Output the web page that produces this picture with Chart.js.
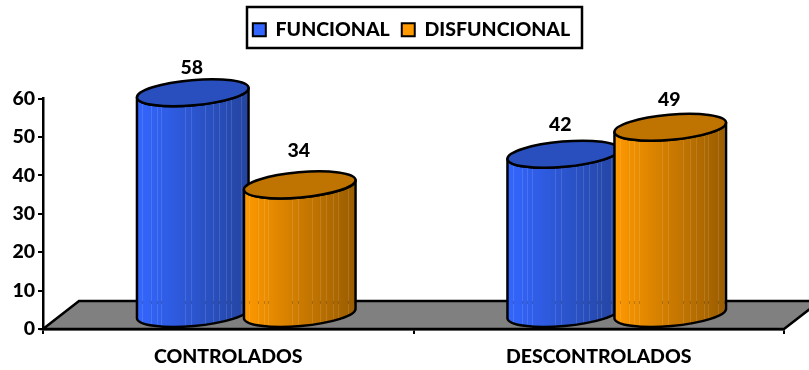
<!DOCTYPE html>
<html>
<head>
<meta charset="utf-8">
<style>
html, body { margin: 0; padding: 0; background: #fff; }
canvas { display: block; }
</style>
<script src="https://cdn.jsdelivr.net/npm/chart.js@4"></script>
</head>
<body>
<canvas id="chart" width="809" height="370"></canvas>
<script>
const categories = ['CONTROLADOS', 'DESCONTROLADOS'];
const funcional = [58, 42];
const disfuncional = [34, 49];
const yMax = 60;
const yStep = 10;

const FONT = 'Lato, Carlito, "Open Sans", sans-serif';
const WEIGHT = '900';
const SIZE = 19.5;

// Fill colours per series: side gradient ends, cap colour, legend swatch.
const paints = [
  { light: '#3366ff', dark: '#24449f', cap: '#284fbd', swatch: '#3366ff' },
  { light: '#ff9900', dark: '#995c00', cap: '#bf7300', swatch: '#ff9900' }
];

// Pale vertical facets along the cylinder wall, as fractions of its width.
const facets = [0.05, 0.13, 0.18, 0.22, 0.43, 0.48, 0.61, 0.68, 0.73, 0.8, 0.84, 0.93, 0.98];

// Fake-3D projection used by the floor and the cylinders.
const depth = { dx: 36, dy: 28, shift: 18 };
const cyl = { widen: 112 / 107, tilt: -5 * Math.PI / 180, minor: 12.6, rise: 13.5 };

// Where each value label sits relative to the front of its cylinder cap.
const labelOffsets = [
  [{ dx: -1, dy: 38 }, { dx: -3, dy: 43 }],
  [{ dx: -1, dy: 48 }, { dx: -1, dy: 41 }]
];

function cylinderPath(ctx, cx, topY, baseY, a) {
  const px = a * Math.cos(cyl.tilt), py = a * Math.sin(cyl.tilt);
  const tc = topY - cyl.rise, bc = baseY - cyl.rise;
  ctx.beginPath();
  ctx.moveTo(cx - px, tc - py);
  ctx.lineTo(cx - px, bc - py);
  ctx.ellipse(cx, bc, a, cyl.minor, cyl.tilt, Math.PI, 0, true);
  ctx.lineTo(cx + px, tc + py);
  ctx.ellipse(cx, tc, a, cyl.minor, cyl.tilt, 0, Math.PI, false);
  ctx.closePath();
}

function drawCylinder(ctx, bar, paint, backY) {
  const a = bar.width * cyl.widen / 2;
  const cx = bar.x + depth.shift;
  const topY = bar.y;
  const baseY = bar.base - 1;
  const tc = topY - cyl.rise;

  const grad = ctx.createLinearGradient(cx - a, 0, cx + a, 0);
  grad.addColorStop(0, paint.light);
  grad.addColorStop(1, paint.dark);

  ctx.save();
  cylinderPath(ctx, cx, topY, baseY, a);
  ctx.fillStyle = grad;
  ctx.fill();

  // Facet lines, with the floor's back edge faintly showing through them.
  ctx.save();
  ctx.clip();
  facets.forEach(f => {
    const x = Math.round(cx - a + 2 * a * f) + 0.5;
    ctx.strokeStyle = 'rgba(255,255,255,0.12)';
    ctx.lineWidth = 1;
    ctx.beginPath();
    ctx.moveTo(x, topY - 30);
    ctx.lineTo(x, bar.base);
    ctx.stroke();
    ctx.strokeStyle = 'rgba(0,0,0,0.22)';
    ctx.beginPath();
    ctx.moveTo(x, backY);
    ctx.lineTo(x, backY + 3);
    ctx.stroke();
  });
  ctx.restore();

  ctx.strokeStyle = '#000';
  ctx.lineWidth = 2.5;
  ctx.lineJoin = 'round';
  cylinderPath(ctx, cx, topY, baseY, a);
  ctx.stroke();

  ctx.beginPath();
  ctx.ellipse(cx, tc, a, cyl.minor, cyl.tilt, 0, Math.PI * 2);
  ctx.fillStyle = paint.cap;
  ctx.fill();
  ctx.stroke();
  ctx.restore();
}

const cylinderScene = {
  id: 'cylinderScene',
  beforeInit(chart) {
    // Reserve the band above the plot for the framed legend.
    const fit = chart.legend.fit;
    chart.legend.fit = function () {
      fit.call(this);
      this.height = 90.5;
    };
  },
  afterLayout(chart) {
    // Centre the legend row inside its frame.
    const lg = chart.legend;
    const shift = 411.5 - (lg.left + lg.right) / 2;
    lg.left += shift;
    lg.right += shift;
  },
  beforeDatasetsDraw(chart) {
    const { ctx, chartArea: { left, right, bottom } } = chart;
    ctx.save();
    ctx.beginPath();
    ctx.moveTo(left, bottom);
    ctx.lineTo(left + depth.dx, bottom - depth.dy);
    ctx.lineTo(right + depth.dx, bottom - depth.dy);
    ctx.lineTo(right, bottom);
    ctx.closePath();
    ctx.fillStyle = '#808080';
    ctx.fill();
    ctx.strokeStyle = '#000';
    ctx.lineWidth = 2.5;
    ctx.stroke();
    ctx.restore();
  },
  // The library's flat bars are replaced by the cylinders drawn below.
  beforeDatasetDraw() {
    return false;
  },
  afterDatasetsDraw(chart) {
    const { ctx } = chart;
    const backY = chart.chartArea.bottom - depth.dy;
    chart.data.datasets.forEach((ds, d) => {
      chart.getDatasetMeta(d).data.forEach(bar => drawCylinder(ctx, bar, paints[d], backY));
    });
    ctx.save();
    ctx.fillStyle = '#000';
    ctx.font = WEIGHT + ' ' + SIZE + 'px ' + FONT;
    ctx.textAlign = 'center';
    ctx.textBaseline = 'middle';
    chart.data.datasets.forEach((ds, d) => {
      chart.getDatasetMeta(d).data.forEach((bar, i) => {
        const off = labelOffsets[d][i];
        ctx.fillText(String(ds.data[i]), bar.x + depth.shift + off.dx, bar.y - off.dy);
      });
    });
    ctx.restore();
  },
  afterDraw(chart) {
    // Legend frame.
    const { ctx } = chart;
    ctx.save();
    ctx.strokeStyle = '#000';
    ctx.lineWidth = 2.5;
    ctx.strokeRect(247, 7, 335, 41);
    ctx.restore();
  }
};

new Chart(document.getElementById('chart'), {
  type: 'bar',
  data: {
    labels: categories,
    datasets: [
      { label: 'FUNCIONAL', data: funcional, backgroundColor: paints[0].swatch, barThickness: 107 },
      { label: 'DISFUNCIONAL', data: disfuncional, backgroundColor: paints[1].swatch, barThickness: 107 }
    ]
  },
  options: {
    responsive: false,
    animation: false,
    layout: { padding: { top: 8, right: 25, left: 0, bottom: 0 } },
    plugins: {
      tooltip: { enabled: false },
      legend: {
        position: 'top',
        labels: {
          boxWidth: 13,
          boxHeight: 13,
          padding: 12,
          color: '#000',
          font: { family: FONT, size: SIZE, weight: WEIGHT },
          generateLabels(chart) {
            return chart.data.datasets.map((ds, i) => ({
              text: ds.label,
              fillStyle: paints[i].swatch,
              strokeStyle: '#000',
              lineWidth: 2,
              datasetIndex: i
            }));
          }
        }
      }
    },
    scales: {
      x: {
        afterFit(scale) { scale.height = 41; },
        grid: { drawOnChartArea: false, drawTicks: true, tickLength: 5, color: '#000', lineWidth: 2 },
        border: { color: '#000', width: 2.5 },
        ticks: {
          color: '#000',
          padding: 11,
          maxRotation: 0,
          font: { family: FONT, size: SIZE, weight: WEIGHT }
        }
      },
      y: {
        min: 0,
        max: yMax,
        afterFit(scale) { scale.width = 43; },
        grid: { drawOnChartArea: false, drawTicks: true, tickLength: 5, color: '#000', lineWidth: 2 },
        border: { color: '#000', width: 2.5 },
        ticks: {
          stepSize: yStep,
          color: '#000',
          padding: 3,
          font: { family: FONT, size: SIZE, weight: WEIGHT }
        }
      }
    }
  },
  plugins: [cylinderScene]
});
</script>
</body>
</html>
